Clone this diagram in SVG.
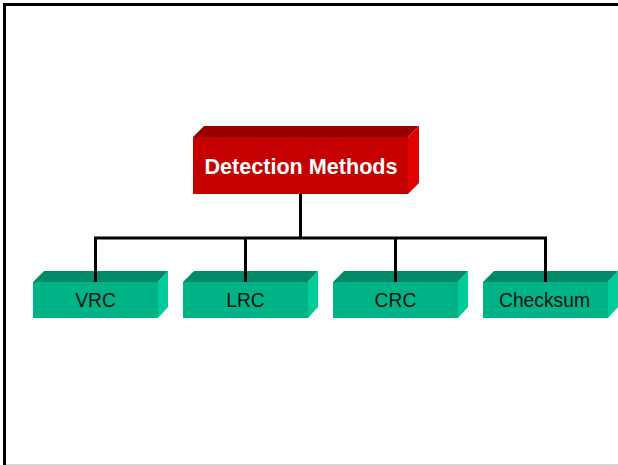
<svg xmlns="http://www.w3.org/2000/svg" width="618" height="465" viewBox="0 0 618 465">
<style>
.rf{fill:#c40000}.rt{fill:#990000}.rs{fill:#e20000}
.gf{fill:#00b386}.gt{fill:#008a68}.gs{fill:#00cc99}
.lbl{font-family:"Liberation Sans",Arial,sans-serif;font-size:19.3px;fill:#111;text-anchor:middle}
.ttl{font-family:"Liberation Sans",Arial,sans-serif;font-size:21.6px;font-weight:bold;fill:#fff;text-anchor:middle}
.ln{stroke:#000;stroke-width:3;fill:none}
</style>
<rect width="618" height="465" fill="#fff"/>
<line x1="6" y1="464.5" x2="618" y2="464.5" stroke="#d8d8d8" stroke-width="1"/>
<path d="M4.5 465 V4.5 H618" stroke="#000" stroke-width="3" fill="none"/>
<g id="root">
<polygon class="rt" points="193,137 204,126 419,126 408,137"/>
<polygon class="rs" points="408,137 419,126 419,183 408,194"/>
<rect class="rf" x="193" y="137" width="215" height="57"/>
<text class="ttl" x="301" y="174">Detection Methods</text>
</g>
<g id="vrc">
<polygon class="gt" points="33,282 44,271 168,271 158,282"/>
<polygon class="gs" points="158,282 168,271 168,307 158,318"/>
<rect class="gf" x="33" y="282" width="125" height="36"/>
<text class="lbl" x="95.5" y="307">VRC</text>
</g>
<g id="lrc">
<polygon class="gt" points="183,282 194,271 318,271 308,282"/>
<polygon class="gs" points="308,282 318,271 318,307 308,318"/>
<rect class="gf" x="183" y="282" width="125" height="36"/>
<text class="lbl" x="245.5" y="307">LRC</text>
</g>
<g id="crc">
<polygon class="gt" points="333,282 344,271 468,271 458,282"/>
<polygon class="gs" points="458,282 468,271 468,307 458,318"/>
<rect class="gf" x="333" y="282" width="125" height="36"/>
<text class="lbl" x="395.5" y="307">CRC</text>
</g>
<g id="checksum">
<polygon class="gt" points="483,282 494,271 618,271 608,282"/>
<polygon class="gs" points="608,282 618,271 618,307 608,318"/>
<rect class="gf" x="483" y="282" width="125" height="36"/>
<text class="lbl" x="544.5" y="307">Checksum</text>
</g>
<g id="connectors">
<line class="ln" x1="300.5" y1="194" x2="300.5" y2="238"/>
<path class="ln" d="M95.5 282 V238 H545.5 V282"/>
<line class="ln" x1="245.5" y1="238" x2="245.5" y2="282"/>
<line class="ln" x1="395.5" y1="238" x2="395.5" y2="282"/>
</g>
</svg>
